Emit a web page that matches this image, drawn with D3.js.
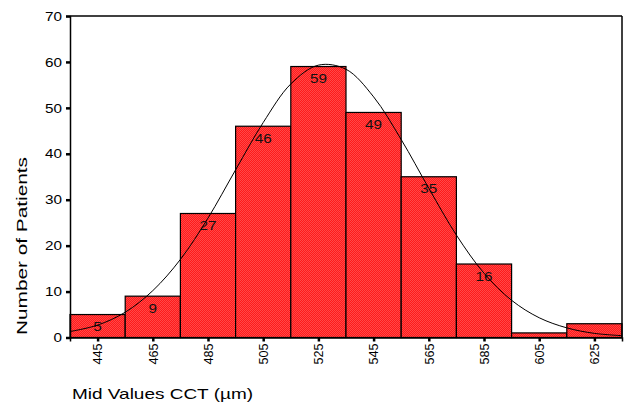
<!DOCTYPE html>
<html>
<head>
<meta charset="utf-8">
<script src="https://cdn.jsdelivr.net/npm/d3@7"></script>
<style>
  body { margin: 0; background: #fff; }
  text { font-family: Arial, "Liberation Sans", sans-serif; fill: #000; }
</style>
</head>
<body>
<div id="chart"></div>
<script>
// histogram bins (mid values) and counts
var midValues = [445, 465, 485, 505, 525, 545, 565, 585, 605, 625];
var counts = [5, 9, 27, 46, 59, 49, 35, 16, 1, 3];
var labelShown = [true, true, true, true, true, true, true, true, false, false];
var yTicks = [0, 10, 20, 30, 40, 50, 60, 70];

// normal curve, every 10 µm
var curveX = [435, 445, 455, 465, 475, 485, 495, 505, 515, 525, 535,
              545, 555, 565, 575, 585, 595, 605, 615, 625, 635];
var curveY = [1.3, 2.7, 5.5, 10.2, 17, 26, 36.5, 46.8, 55.2, 59.3, 58.4,
              52.4, 43.1, 32.5, 22.3, 14, 8.1, 4.3, 2.1, 0.9, 0.4];

var binWidth = 20;
var svgWidth = 626;
var svgHeight = 404;

var margin = { top: 16, right: 4, bottom: 66.5, left: 70 };
var width = 622 - margin.left;
var height = 337.5 - margin.top;

var svg = d3.select("#chart")
  .append("svg")
  .attr("width", svgWidth)
  .attr("height", svgHeight);

var defs = svg.append("defs");
var pat = defs.append("pattern")
  .attr("id", "dither")
  .attr("width", 2)
  .attr("height", 2)
  .attr("patternUnits", "userSpaceOnUse");
pat.append("rect").attr("width", 2).attr("height", 2).attr("fill", "#ff1a1a");
pat.append("rect").attr("width", 1).attr("height", 1).attr("fill", "#ff4848");
pat.append("rect").attr("x", 1).attr("y", 1).attr("width", 1).attr("height", 1).attr("fill", "#ff4848");

var chartGroup = svg.append("g")
  .attr("transform", `translate(${margin.left}, ${margin.top})`);

var x = d3.scaleLinear()
  .domain([midValues[0] - binWidth / 2, midValues[midValues.length - 1] + binWidth / 2])
  .range([0, width]);

var y = d3.scaleLinear()
  .domain([0, 70])
  .range([height, 0]);

// bars
chartGroup.selectAll("rect.bar")
  .data(midValues)
  .enter()
  .append("rect")
  .attr("class", "bar")
  .attr("x", d => x(d - binWidth / 2))
  .attr("width", d => x(d + binWidth / 2) - x(d - binWidth / 2))
  .attr("y", (d, i) => y(counts[i]))
  .attr("height", (d, i) => height - y(counts[i]))
  .attr("fill", "url(#dither)")
  .attr("stroke", "#000")
  .attr("stroke-width", 1.2);

// count labels
chartGroup.selectAll("text.count")
  .data(midValues.filter((d, i) => labelShown[i]))
  .enter()
  .append("text")
  .attr("class", "count")
  .attr("x", d => x(d))
  .attr("y", d => y(counts[midValues.indexOf(d)]) + 16.5)
  .attr("text-anchor", "middle")
  .attr("font-size", "13px")
  .attr("textLength", d => String(counts[midValues.indexOf(d)]).length * 8.5)
  .attr("lengthAdjust", "spacingAndGlyphs")
  .style("fill", "#111")
  .text(d => counts[midValues.indexOf(d)]);

// normal curve
var line = d3.line()
  .x(d => x(d[0]))
  .y(d => y(d[1]))
  .curve(d3.curveCatmullRom);

chartGroup.append("path")
  .datum(curveX.map((d, i) => [d, curveY[i]]))
  .attr("d", line)
  .attr("fill", "none")
  .attr("stroke", "#000")
  .attr("stroke-width", 1);

// frame top and right
chartGroup.append("line")
  .attr("x1", 0).attr("x2", width).attr("y1", 0).attr("y2", 0)
  .attr("stroke", "#000").attr("stroke-width", 1.5);
chartGroup.append("line")
  .attr("x1", width).attr("x2", width).attr("y1", 0).attr("y2", height)
  .attr("stroke", "#000").attr("stroke-width", 1.5);

// axes
var leftAxis = d3.axisLeft(y).tickValues(yTicks).tickSize(4).tickPadding(4);
var bottomAxis = d3.axisBottom(x).tickValues(midValues).tickSize(4).tickPadding(4);

var yAxisG = chartGroup.append("g").call(leftAxis);
yAxisG.select(".domain").attr("stroke-width", 1.5);
yAxisG.selectAll(".tick line").attr("stroke-width", 2.5);
yAxisG.selectAll(".tick text")
  .attr("font-size", "13px")
  .attr("font-family", "Arial, 'Liberation Sans', sans-serif")
  .attr("textLength", d => String(d).length * 8.5)
  .attr("lengthAdjust", "spacingAndGlyphs");

var xAxisG = chartGroup.append("g")
  .attr("transform", `translate(0, ${height})`)
  .call(bottomAxis);
xAxisG.select(".domain").attr("stroke-width", 1.5);
xAxisG.selectAll(".tick line").attr("stroke-width", 2.5);
xAxisG.selectAll(".tick text")
  .attr("font-size", "12px")
  .attr("font-family", "Arial, 'Liberation Sans', sans-serif")
  .attr("transform", "rotate(-90)")
  .attr("text-anchor", "end")
  .attr("x", -6)
  .attr("y", 0)
  .attr("dy", "0.35em")
  .attr("textLength", 21)
  .attr("lengthAdjust", "spacingAndGlyphs");

// axis titles
svg.append("text")
  .attr("transform", "translate(27, 246) rotate(-90)")
  .attr("text-anchor", "middle")
  .attr("font-size", "14px")
  .attr("textLength", 178)
  .attr("lengthAdjust", "spacingAndGlyphs")
  .text("Number of Patients");

svg.append("text")
  .attr("x", 72)
  .attr("y", 399)
  .attr("font-size", "15px")
  .attr("textLength", 181)
  .attr("lengthAdjust", "spacingAndGlyphs")
  .text("Mid Values CCT (µm)");
</script>
</body>
</html>
